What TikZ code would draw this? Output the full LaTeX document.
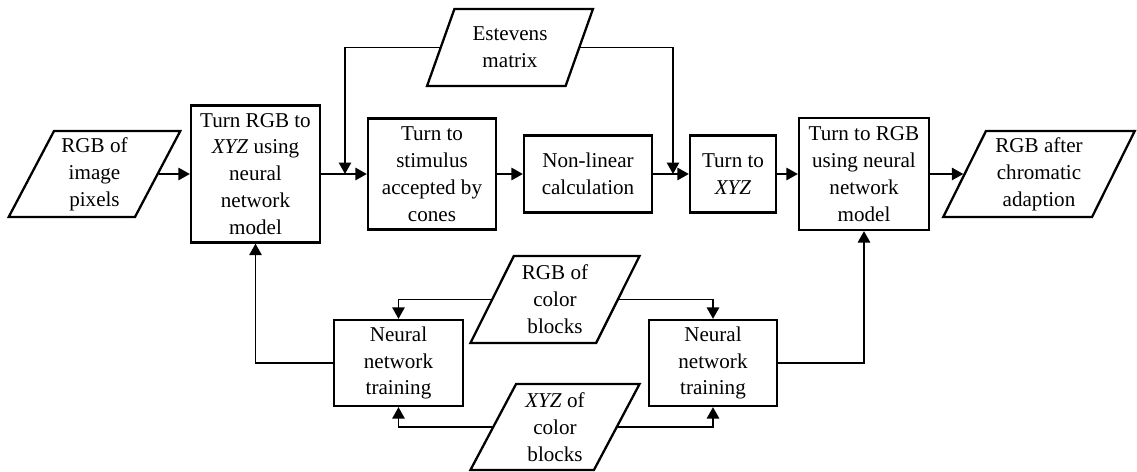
\documentclass[tikz,border=0pt]{standalone}
\usepackage{fontspec}
\setmainfont{Liberation Serif}
\usetikzlibrary{shapes.geometric}
\usetikzlibrary{arrows.meta}
\newcommand*{\midy}{5.96}
\newcommand*{\boxh}{1.72}

\begin{document}
\begin{tikzpicture}[font=\fontsize{12}{15.3}\selectfont,
    block/.style = {draw, line width=1.3pt, align=center, inner sep=1pt},
    iobox/.style = {draw, line width=1.3pt, align=center, inner sep=1pt,
                    trapezium, trapezium left angle=63, trapezium right angle=117,
                    trapezium stretches=true},
    flow/.style  = {line width=1pt, -{Triangle[length=6.5pt,width=7pt]}}]
    \useasboundingbox (0,0) rectangle (22.74,9.44);
    % upper row
    \node [iobox, minimum width=3.46cm, minimum height=\boxh cm] (inp) at (1.89,\midy) {RGB of\\image\\pixels};
    \node [block, minimum width=2.58cm, minimum height=2.74cm] (torgbxyz) at (5.11,\midy) {Turn RGB to\\\textit{XYZ} using\\neural\\network\\model};
    \node [block, minimum width=2.56cm, minimum height=2.22cm] (cones) at (8.64,\midy) {Turn to\\stimulus\\accepted by\\cones};
    \node [block, minimum width=2.56cm, minimum height=1.54cm] (nonlin) at (11.76,\midy) {Non-linear\\calculation};
    \node [block, minimum width=1.72cm, minimum height=1.54cm] (toxyz) at (14.66,\midy) {Turn to\\\textit{XYZ}};
    \node [block, minimum width=2.60cm, minimum height=2.24cm] (torgb) at (17.28,\midy) {Turn to RGB\\using neural\\network\\model};
    \node [iobox, trapezium left angle=64.5, trapezium right angle=115.5, minimum width=3.84cm, minimum height=\boxh cm] (outp) at (20.78,\midy) {RGB after\\chromatic\\adaption};
    \node [iobox, trapezium left angle=66.5, trapezium right angle=113.5, minimum width=3.32cm, minimum height=1.54cm] (estev) at (10.20,8.49) {Estevens\\matrix};
    % lower part
    \node [block, minimum width=2.58cm, minimum height=\boxh cm] (trainA) at (7.97,2.18) {Neural\\network\\training};
    \node [block, minimum width=2.56cm, minimum height=\boxh cm] (trainB) at (14.26,2.18) {Neural\\network\\training};
    \node [iobox, minimum width=3.40cm, minimum height=1.74cm] (rgbblk) at (11.10,3.45) {RGB of\\color\\blocks};
    \node [iobox, minimum width=3.40cm, minimum height=\boxh cm] (xyzblk) at (11.10,0.90) {\textit{XYZ} of\\color\\blocks};
    \coordinate (joinA) at (6.90,\midy);
    \coordinate (joinB) at (13.46,\midy);
    % connectors
    \draw [flow] (inp.east) -- (torgbxyz.west);
    \draw [flow] (torgbxyz.east) -- (cones.west);
    \draw [flow] (cones.east) -- (nonlin.west);
    \draw [flow] (nonlin.east) -- (toxyz.west);
    \draw [flow] (toxyz.east) -- (torgb.west);
    \draw [flow] (torgb.east) -- (outp.west);
    \draw [flow] (estev.west) -| (joinA);
    \draw [flow] (estev.east) -| (joinB);
    \draw [flow] (trainA.west) -| (torgbxyz.south);
    \draw [flow] (trainB.east) -| (torgb.south);
    \draw [flow] (rgbblk.west) -| (trainA.north);
    \draw [flow] (rgbblk.east) -| (trainB.north);
    \draw [flow] (xyzblk.west) -| (trainA.south);
    \draw [flow] (xyzblk.east) -| (trainB.south);
\end{tikzpicture}
\end{document}
